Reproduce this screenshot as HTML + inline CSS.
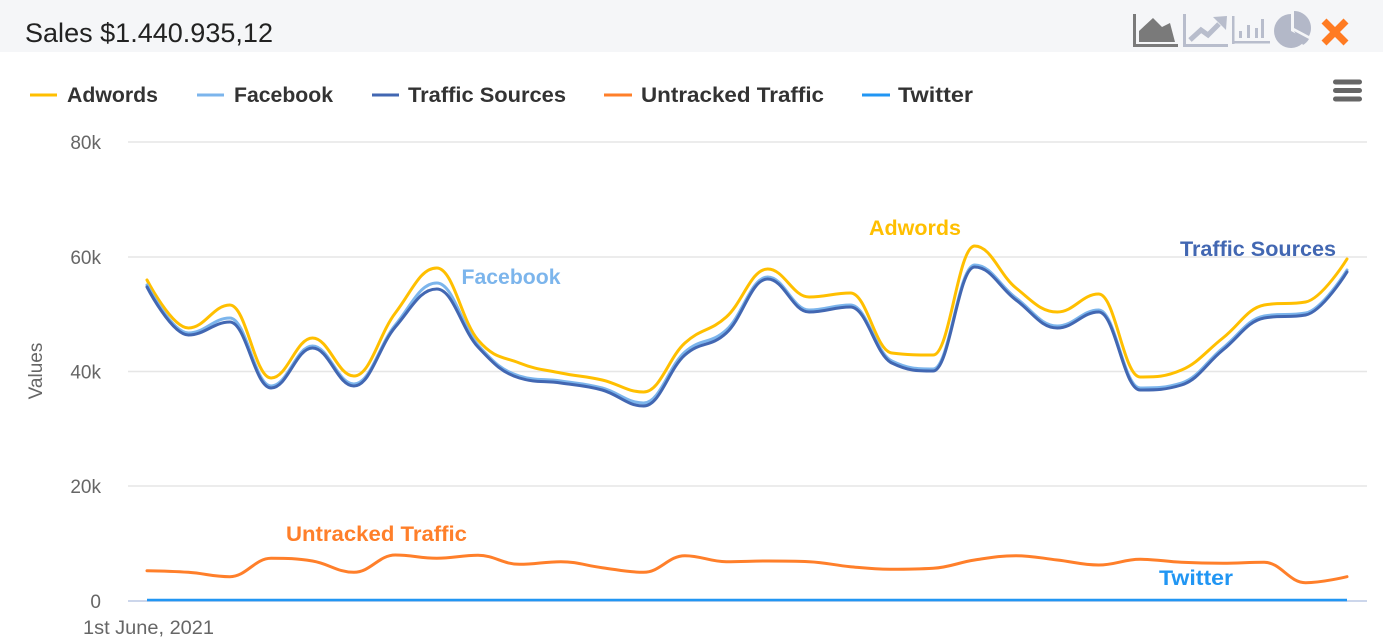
<!DOCTYPE html>
<html>
<head>
<meta charset="utf-8">
<style>
html,body{margin:0;padding:0;background:#fff;}
svg{display:block;}
text{font-family:"Liberation Sans",Arial,sans-serif;}
</style>
</head>
<body>
<svg id="c" width="1383" height="639" viewBox="0 0 1383 639" xmlns="http://www.w3.org/2000/svg">
  <rect x="0" y="0" width="1383" height="639" fill="#ffffff"/>
  <!-- header -->
  <rect x="0" y="0" width="1383" height="52" fill="#f5f6f8"/>
  <text x="25" y="42" font-size="27" fill="#222" textLength="248" lengthAdjust="spacingAndGlyphs">Sales $1.440.935,12</text>

  <!-- icons -->
  <g>
    <rect x="1133" y="14" width="3" height="33" fill="#7a7a7a"/>
    <rect x="1133" y="44" width="45" height="3" fill="#7a7a7a"/>
    <polygon points="1139,42 1139,31 1153,18 1162,27 1170,23 1175,42" fill="#7a7a7a"/>
  </g>
  <g>
    <rect x="1183" y="14" width="3" height="33" fill="#b8bdcc"/>
    <rect x="1183" y="44" width="45" height="3" fill="#b8bdcc"/>
    <polyline points="1190,40 1201,30 1208,35 1219,24" fill="none" stroke="#b8bdcc" stroke-width="5"/>
    <polygon points="1213,17 1227,16 1226,30" fill="#b8bdcc"/>
  </g>
  <g>
    <rect x="1232" y="16" width="2.5" height="28" fill="#b8bdcc"/>
    <rect x="1232" y="41" width="38" height="2.5" fill="#b8bdcc"/>
    <rect x="1239" y="31" width="3" height="7" fill="#b8bdcc"/>
    <rect x="1247" y="25" width="3" height="13" fill="#b8bdcc"/>
    <rect x="1255" y="28" width="3" height="10" fill="#b8bdcc"/>
    <rect x="1261" y="19" width="3" height="19" fill="#b8bdcc"/>
  </g>
  <g fill="#b3b8c8">
    <path d="M1291,31 L1291,14 A17,17 0 1,0 1306,39 Z"/>
    <path d="M1294,28 L1294,11 A17,17 0 0,1 1309,36 Z"/>
    <path d="M1294,31 L1309,39 A17,17 0 0,1 1303,45 Z"/>
  </g>
  <g stroke="#ff7b22" stroke-width="7">
    <line x1="1324" y1="21" x2="1346" y2="43"/>
    <line x1="1346" y1="21" x2="1324" y2="43"/>
  </g>

  <!-- hamburger -->
  <g fill="#666">
    <rect x="1333" y="79.5" width="29" height="5" rx="2.5"/>
    <rect x="1333" y="88" width="29" height="5" rx="2.5"/>
    <rect x="1333" y="96.5" width="29" height="5" rx="2.5"/>
  </g>

  <!-- legend -->
  <g font-size="21" font-weight="bold" fill="#333">
    <rect x="30" y="93.5" width="27" height="3" fill="#ffbf00"/>
    <text x="67" y="102" textLength="91" lengthAdjust="spacingAndGlyphs">Adwords</text>
    <rect x="197" y="93.5" width="27" height="3" fill="#7cb5ec"/>
    <text x="234" y="102" textLength="99" lengthAdjust="spacingAndGlyphs">Facebook</text>
    <rect x="372" y="93.5" width="27" height="3" fill="#4267b2"/>
    <text x="408" y="102" textLength="158" lengthAdjust="spacingAndGlyphs">Traffic Sources</text>
    <rect x="604" y="93.5" width="28" height="3" fill="#ff7f2a"/>
    <text x="641" y="102" textLength="183" lengthAdjust="spacingAndGlyphs">Untracked Traffic</text>
    <rect x="862" y="93.5" width="28" height="3" fill="#2196f3"/>
    <text x="898" y="102" textLength="75" lengthAdjust="spacingAndGlyphs">Twitter</text>
  </g>

  <!-- grid -->
  <g stroke="#e6e6e6" stroke-width="1.5">
    <line x1="128" y1="142" x2="1367" y2="142"/>
    <line x1="128" y1="257" x2="1367" y2="257"/>
    <line x1="128" y1="371.5" x2="1367" y2="371.5"/>
    <line x1="128" y1="486" x2="1367" y2="486"/>
  </g>
  <line x1="128" y1="601" x2="1367" y2="601" stroke="#ccd6eb" stroke-width="2"/>

  <!-- y labels -->
  <g font-size="19" fill="#666" text-anchor="end">
    <text x="101" y="149">80k</text>
    <text x="101" y="264">60k</text>
    <text x="101" y="378.5">40k</text>
    <text x="101" y="493">20k</text>
    <text x="101" y="608">0</text>
  </g>
  <text x="0" y="0" font-size="19" fill="#666" text-anchor="middle" transform="translate(42,371) rotate(-90)">Values</text>
  <text x="83" y="634" font-size="19" fill="#666" textLength="131" lengthAdjust="spacingAndGlyphs">1st June, 2021</text>

  <!-- series -->
  <g fill="none" stroke-width="3" stroke-linejoin="round" stroke-linecap="round">
    <path id="s0" stroke="#ffbf00" d="M147,280 L188.4,328 229.8,305 271.1,378 312.5,338 353.9,376 395.3,313 436.7,268 478,340 519.4,363 560.8,373 602.2,380 643.6,392 684.9,343 726.3,317 767.7,269 809.1,297 850.4,293 891.8,353 933.2,355 974.6,246 1016,288 1057.3,312 1098.7,294 1140.1,377 1181.5,370 1222.9,338 1264.2,305 1305.6,302 1347,259"/>
    <path id="s1" stroke="#7cb5ec" d="M147,285 L188.4,333 229.8,318 271.1,386 312.5,346 353.9,384 395.3,325 436.7,283 478,345 519.4,376 560.8,381 602.2,388 643.6,403 684.9,352 726.3,330 767.7,277 809.1,310 850.4,305 891.8,361 933.2,369 974.6,265 1016,298 1057.3,326 1098.7,310 1140.1,388 1181.5,383 1222.9,348 1264.2,316 1305.6,313 1347,270"/>
    <path id="s2" stroke="#4267b2" d="M147,287 L188.4,335 229.8,322 271.1,388 312.5,348 353.9,386 395.3,327 436.7,289 478,347 519.4,378 560.8,383 602.2,390 643.6,406 684.9,355 726.3,333 767.7,279 809.1,312 850.4,307 891.8,363 933.2,371 974.6,267 1016,300 1057.3,328 1098.7,312 1140.1,390 1181.5,385 1222.9,350 1264.2,318 1305.6,315 1347,272"/>
    <path id="s3" stroke="#ff7f2a" d="M147,570.7 L188.4,572.3 229.8,576.7 271.1,558.3 312.5,561 353.9,572.3 395.3,555 436.7,558.3 478,555.3 519.4,564.3 560.8,561.7 602.2,567.7 643.6,572.3 684.9,555.7 726.3,561.7 767.7,561 809.1,561.7 850.4,566.7 891.8,569.3 933.2,568.3 974.6,560 1016,555.7 1057.3,560 1098.7,565 1140.1,559.3 1181.5,562.3 1222.9,563.3 1264.2,562.3 1305.6,582.7 1347,576.7"/>
    <line x1="147" y1="600" x2="1347" y2="600" stroke="#2196f3" stroke-width="2.5" stroke-linecap="butt"/>
  </g>

  <!-- data labels -->
  <g font-size="21" font-weight="bold">
    <text x="461.5" y="284" fill="#7cb5ec" textLength="99" lengthAdjust="spacingAndGlyphs">Facebook</text>
    <text x="869" y="235" fill="#ffbf00" textLength="92" lengthAdjust="spacingAndGlyphs">Adwords</text>
    <text x="1180" y="256" fill="#4267b2" textLength="156" lengthAdjust="spacingAndGlyphs">Traffic Sources</text>
    <text x="286" y="541" fill="#ff7f2a" textLength="181" lengthAdjust="spacingAndGlyphs">Untracked Traffic</text>
    <text x="1159" y="585" fill="#2196f3" textLength="74" lengthAdjust="spacingAndGlyphs">Twitter</text>
  </g>
</svg>
<script>
(function(){
  function parse(d){
    var nums=d.replace(/[ML]/g,' ').trim().split(/[\s,]+/).map(Number);
    var xs=[],ys=[];
    for(var i=0;i<nums.length;i+=2){xs.push(nums[i]);ys.push(nums[i+1]);}
    return [xs,ys];
  }
  function spline(xs,ys){
    var n=xs.length,s=1.5,den=2.5,L=[],R=[];
    for(var i=1;i<n-1;i++){
      var x=xs[i],y=ys[i],lx=xs[i-1],ly=ys[i-1],nx=xs[i+1],ny=ys[i+1];
      var lcx=(s*x+lx)/den,lcy=(s*y+ly)/den,rcx=(s*x+nx)/den,rcy=(s*y+ny)/den;
      if(rcx!==lcx){var c=((rcy-lcy)*(rcx-x))/(rcx-lcx)+y-rcy;lcy+=c;rcy+=c;}
      if(lcy>ly&&lcy>y){lcy=Math.max(ly,y);rcy=2*y-lcy;}
      else if(lcy<ly&&lcy<y){lcy=Math.min(ly,y);rcy=2*y-lcy;}
      if(rcy>ny&&rcy>y){rcy=Math.max(ny,y);lcy=2*y-rcy;}
      else if(rcy<ny&&rcy<y){rcy=Math.min(ny,y);lcy=2*y-rcy;}
      L[i]=[lcx,lcy];R[i]=[rcx,rcy];
    }
    var d='M'+xs[0]+','+ys[0];
    for(var j=1;j<n;j++){
      var a=R[j-1]||[xs[j-1],ys[j-1]],b=L[j]||[xs[j],ys[j]];
      d+=' C'+a[0].toFixed(2)+','+a[1].toFixed(2)+' '+b[0].toFixed(2)+','+b[1].toFixed(2)+' '+xs[j]+','+ys[j];
    }
    return d;
  }
  ['s0','s1','s2','s3'].forEach(function(id){
    var p=document.getElementById(id);
    var xy=parse(p.getAttribute('d'));
    p.setAttribute('d',spline(xy[0],xy[1]));
  });
})();
</script>
</body>
</html>
